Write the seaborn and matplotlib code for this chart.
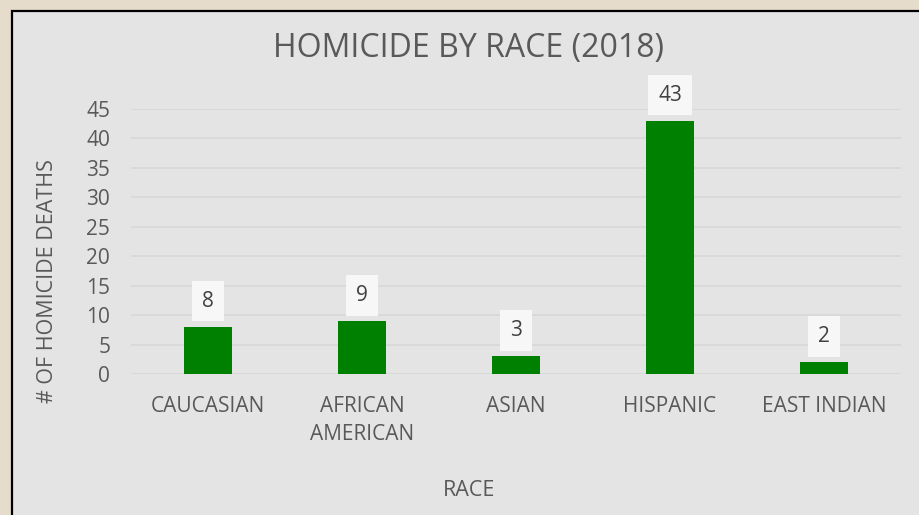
import matplotlib
matplotlib.use("Agg")
import matplotlib.pyplot as plt
import seaborn as sns
import pandas as pd
from matplotlib.patches import Rectangle

categories = ["CAUCASIAN", "AFRICAN\nAMERICAN", "ASIAN", "HISPANIC", "EAST INDIAN"]
deaths = [8, 9, 3, 43, 2]
yticks = [0, 5, 10, 15, 20, 25, 30, 35, 40, 45]

sns.set_theme(style="white")
plt.rcParams["font.family"] = ["Open Sans", "DejaVu Sans"]

TXT = "#595959"
W, H = 920, 515
fig = plt.figure(figsize=(W / 100, H / 100), dpi=100)
fig.patch.set_facecolor("#e6dccb")

# chart panel with black border (right/bottom edges run off the image)
panel = Rectangle((11.5 / W, -0.1), 1.2, 1.1 - 10.5 / H, transform=fig.transFigure,
                  facecolor="#e4e4e4", edgecolor="black", linewidth=1.6, zorder=-10, clip_on=False)
fig.patches.append(panel)

ax = fig.add_axes([131 / W, 1 - 374 / H, 770 / W, 265 / H])
ax.set_facecolor("none")
ax.set_zorder(5)

df = pd.DataFrame({"race": categories, "deaths": deaths})
sns.barplot(data=df, x="race", y="deaths", color="#008000", saturation=1, width=0.31, ax=ax,
            zorder=3, linewidth=0, edgecolor="none")

ax.set_ylim(0, 45)
ax.set_yticks(yticks)
ax.yaxis.grid(True, color="#d6d6d6", linewidth=1.1, zorder=0)
ax.set_axisbelow(True)
for s in ax.spines.values():
    s.set_visible(False)
FS = 15
ax.tick_params(axis="both", length=0, colors=TXT, labelsize=FS)
ax.tick_params(axis="y", pad=15)
ax.tick_params(axis="x", pad=16)
for lab in ax.get_xticklabels():
    lab.set_linespacing(1.4)
ax.set_xlabel("")
ax.set_ylabel("")

for i, v in enumerate(deaths):
    ax.annotate(str(v), (i, v), xytext=(0, 18.5), textcoords="offset points", ha="center", va="center",
                fontsize=FS, color="#404040",
                bbox=dict(boxstyle="square,pad=0.47", facecolor="#f7f7f7", edgecolor="none"))

fig.text(469 / W, 1 - 48 / H, "HOMICIDE BY RACE (2018)", ha="center", va="center", fontsize=23, color=TXT)
fig.text(469 / W, 1 - 490 / H, "RACE", ha="center", va="center", fontsize=15.5, color=TXT)
fig.text(48 / W, 1 - 281 / H, "# OF HOMICIDE DEATHS", ha="center", va="center", rotation=90,
         fontsize=15.5, color=TXT)

fig.savefig("out.png", dpi=100, facecolor=fig.get_facecolor())
